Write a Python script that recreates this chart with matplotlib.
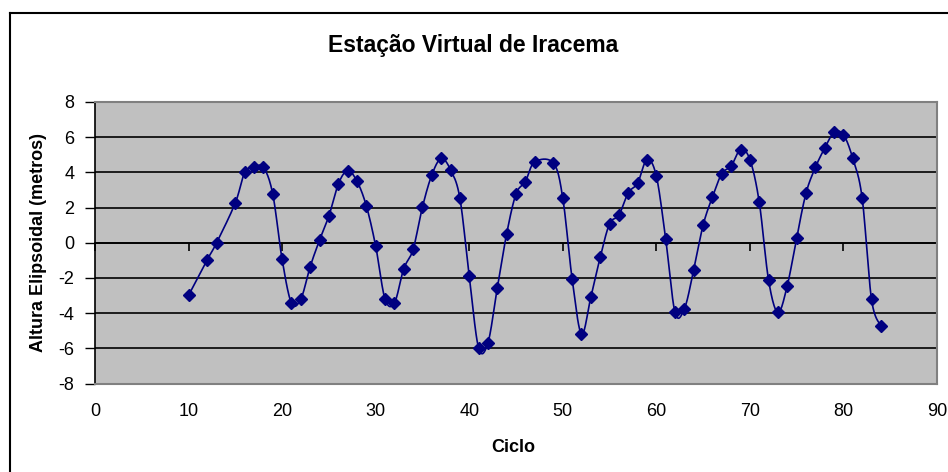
import numpy as np
import matplotlib.pyplot as plt
from matplotlib.lines import Line2D

# Ciclo x altura elipsoidal (m)
ciclo = [10, 12, 13, 15, 16, 17, 18, 19, 20, 21, 22, 23, 24, 25, 26, 27, 28, 29,
         30, 31, 32, 33, 34, 35, 36, 37, 38, 39, 40, 41, 42, 43, 44, 45, 46, 47,
         49, 50, 51, 52, 53, 54, 55, 56, 57, 58, 59, 60, 61, 62, 63, 64, 65, 66,
         67, 68, 69, 70, 71, 72, 73, 74, 75, 76, 77, 78, 79, 80, 81, 82, 83, 84]
altura = [-2.99, -0.96, 0.0, 2.27, 4.0, 4.29, 4.29, 2.77, -0.95, -3.43, -3.2, -1.36,
          0.15, 1.52, 3.33, 4.1, 3.5, 2.1, -0.19, -3.2, -3.43, -1.48, -0.38, 2.03,
          3.85, 4.79, 4.15, 2.54, -1.9, -5.97, -5.69, -2.57, 0.51, 2.77, 3.48, 4.59,
          4.53, 2.54, -2.06, -5.19, -3.09, -0.83, 1.08, 1.57, 2.84, 3.39, 4.73, 3.79,
          0.21, -3.96, -3.75, -1.53, 1.0, 2.61, 3.93, 4.36, 5.3, 4.73, 2.31, -2.14,
          -3.96, -2.43, 0.28, 2.82, 4.28, 5.38, 6.27, 6.14, 4.79, 2.54, -3.22, -4.74]

xticks = list(range(0, 91, 10))
yticks = list(range(-8, 9, 2))

AZUL = '#000080'


def suavizar(x, y, n=20):
    """ Linha suavizada tipo Excel (Catmull-Rom / Bezier) """
    p = np.column_stack([x, y]).astype(float)
    p = np.vstack([p[0], p, p[-1]])
    t = np.linspace(0, 1, n)[:, None]
    seg = []
    for i in range(1, len(p) - 2):
        b0 = p[i]
        b3 = p[i + 1]
        b1 = b0 + (p[i + 1] - p[i - 1]) / 6
        b2 = b3 - (p[i + 2] - p[i]) / 6
        c = ((1 - t) ** 3) * b0 + 3 * ((1 - t) ** 2) * t * b1 + 3 * (1 - t) * t ** 2 * b2 + t ** 3 * b3
        seg.append(c if i == 1 else c[1:])
    c = np.vstack(seg)
    return c[:, 0], c[:, 1]


plt.rcParams['font.family'] = ['Liberation Sans', 'DejaVu Sans']
plt.rcParams['axes.unicode_minus'] = False

fig = plt.figure(figsize=(9.48, 4.72), dpi=100)
ax = fig.add_axes([95 / 948, 1 - 383.5 / 472, (937 - 95) / 948, (383.5 - 102) / 472])
ax.set_facecolor('#C0C0C0')

sx, sy = suavizar(ciclo, altura)
ax.plot(sx, sy, color=AZUL, lw=1.2, zorder=3)
ax.plot(ciclo, altura, ls='none', marker='D', ms=6.3, color=AZUL, zorder=4)

ax.set_xlim(0, 90)
ax.set_ylim(-8, 8)
ax.set_yticks(yticks)
ax.set_xticks(xticks)
ax.yaxis.grid(True, color='black', lw=1.2)
ax.set_axisbelow(True)

for s in ['top', 'right', 'bottom']:
    ax.spines[s].set_color('#808080')
    ax.spines[s].set_linewidth(1.5)
ax.spines['left'].set_color('black')
ax.spines['left'].set_linewidth(1.2)

ax.tick_params(axis='y', direction='out', length=7, width=1, labelsize=13, pad=8)
ax.tick_params(axis='x', length=0, labelsize=13, pad=14)

# eixo x no zero, marcas para baixo
eixo = ax.secondary_xaxis(0.5)
eixo.set_xticks(xticks)
eixo.tick_params(direction='in', length=6, width=1.2, labelbottom=False, labeltop=False)
eixo.spines['top'].set_color('black')
eixo.spines['top'].set_linewidth(1.2)
eixo.spines['bottom'].set_color('black')
eixo.spines['bottom'].set_linewidth(1.2)

fig.text(473 / 948, 1 - 52 / 472, 'Estação Virtual de Iracema', ha='center', va='baseline',
         fontsize=16.5, fontweight='bold')
fig.text(513 / 948, 1 - 447 / 472, 'Ciclo', ha='center', va='center', fontsize=13, fontweight='bold')
fig.text(39 / 948, 1 - 243 / 472, 'Altura Elipsoidal (metros)', ha='center', va='center',
         rotation=90, fontsize=13, fontweight='bold')

# moldura do grafico
fig.add_artist(Line2D([9.5 / 948, 9.5 / 948], [0, 1 - 13 / 472], color='black', lw=1.5))
fig.add_artist(Line2D([9.5 / 948, 1], [1 - 13 / 472, 1 - 13 / 472], color='black', lw=1.5))

fig.savefig('out.png', dpi=100, facecolor='white')
